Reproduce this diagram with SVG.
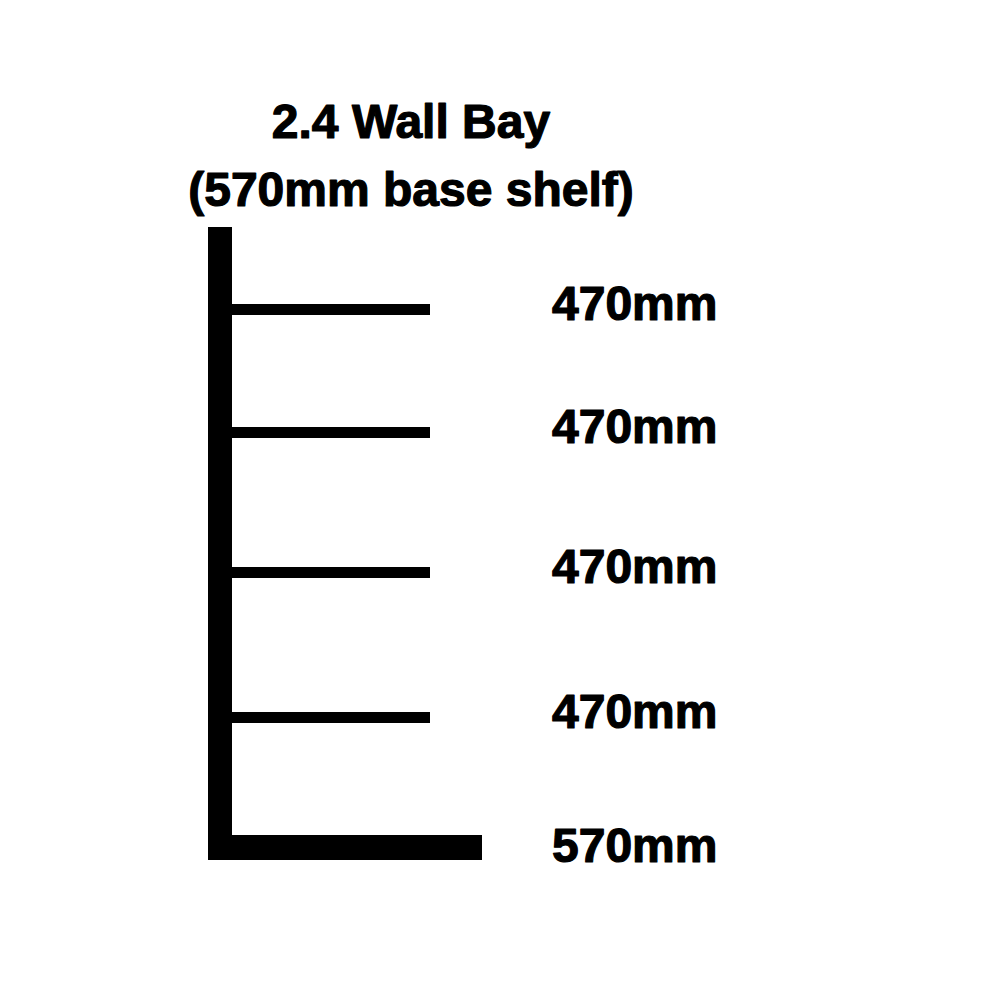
<svg xmlns="http://www.w3.org/2000/svg" width="1000" height="1000" viewBox="0 0 1000 1000">
<style>
.t{font-family:"Liberation Sans",Arial,sans-serif;font-weight:bold;font-size:48px;fill:#000;stroke:#000;stroke-width:1.2px;stroke-linejoin:round}
.s{fill:#000}
</style>
<rect width="1000" height="1000" fill="#fff"/>
<g id="title">
<text class="t" x="411" y="138" text-anchor="middle">2.4 Wall Bay</text>
<text class="t" x="411" y="206" text-anchor="middle">(570mm base shelf)</text>
</g>
<g id="frame">
<rect class="s" x="208" y="227" width="24" height="633"/>
<rect class="s" x="208" y="835" width="274" height="25"/>
</g>
<g id="shelves">
<rect class="s" x="230" y="304" width="200" height="11"/>
<rect class="s" x="230" y="427" width="200" height="11"/>
<rect class="s" x="230" y="567" width="200" height="11"/>
<rect class="s" x="230" y="712" width="200" height="11"/>
</g>
<g id="labels">
<text class="t" x="552" y="320">470mm</text>
<text class="t" x="552" y="443">470mm</text>
<text class="t" x="552" y="583">470mm</text>
<text class="t" x="552" y="728">470mm</text>
<text class="t" x="552" y="862">570mm</text>
</g>
</svg>
